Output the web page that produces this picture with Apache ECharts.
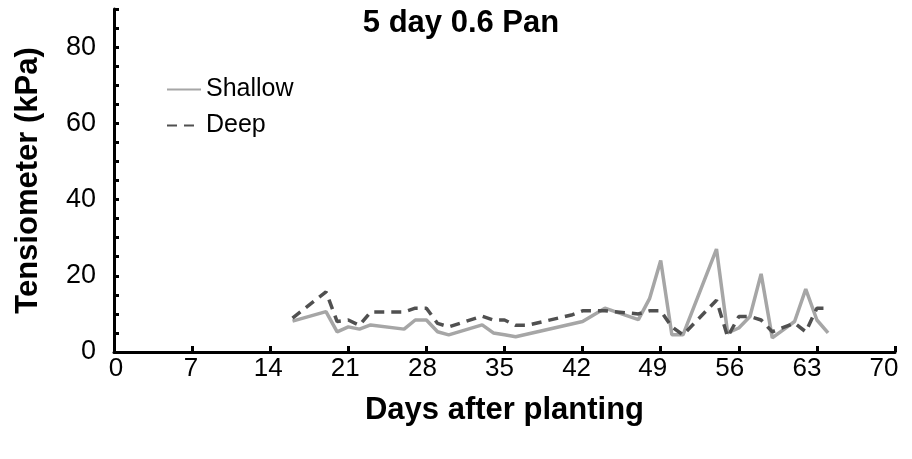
<!DOCTYPE html>
<html>
<head>
<meta charset="utf-8">
<script src="https://cdn.jsdelivr.net/npm/echarts@6/dist/echarts.min.js"></script>
<style>
  html, body { margin: 0; padding: 0; background: #fff; }
  #chart { width: 912px; height: 459px; }
</style>
</head>
<body>
<div id="chart"></div>
<script>
// Tensiometer readings, 5 day irrigation at 0.6 pan evaporation
const shallowDays   = [16, 19, 20, 21, 22, 23, 26, 27, 28, 29, 30, 33, 34, 35, 36, 42, 44, 47, 48, 49, 50, 51, 54, 55, 56, 57, 58, 59, 61, 62, 63, 64];
const shallowValues = [8.1, 10.6, 5.3, 6.6, 6.0, 7.1, 6.0, 8.4, 8.4, 5.3, 4.5, 7.1, 5.0, 4.5, 4.0, 8.0, 11.5, 8.5, 14.0, 24.0, 4.5, 4.5, 27.0, 5.0, 6.3, 9.3, 20.5, 3.7, 8.0, 16.5, 8.4, 5.0];

const deepDays   = [16, 19, 20, 21, 22, 23, 26, 27, 28, 29, 30, 33, 34, 35, 36, 37, 41, 42, 44, 47, 48, 49, 50, 51, 54, 55, 56, 57, 58, 59, 61, 62, 63, 64];
const deepValues = [8.9, 15.8, 8.0, 8.4, 7.0, 10.5, 10.5, 11.5, 11.5, 7.5, 6.6, 9.4, 8.4, 8.4, 7.0, 7.0, 9.7, 10.8, 10.8, 10.0, 10.8, 10.8, 6.6, 4.5, 13.6, 4.0, 9.3, 9.3, 8.4, 5.3, 7.6, 5.3, 11.5, 11.5];

const seriesNames = ['Shallow', 'Deep'];
const chartTitle = '5 day 0.6 Pan';
const xTitle = 'Days after planting';
const yTitle = 'Tensiometer (kPa)';

const FONT = '"Liberation Sans", Arial, sans-serif';

// Day labels sit slightly left of their ticks, drifting further toward the right end
const xLabelNudge = { 0: -2, 7: 1, 14: 2, 21: 3, 28: 4, 35: 5, 42: 6, 49: 8, 56: 9, 63: 10, 70: 11 };
const xLabelRich = {};
Object.keys(xLabelNudge).forEach(k => {
  const s = xLabelNudge[k];
  xLabelRich['d' + k] = {
    fontFamily: FONT, fontSize: 26, color: '#000',
    padding: s >= 0 ? [0, 2 * s, 0, 0] : [0, 0, 0, -2 * s]
  };
});

const pairs = (xs, ys) => xs.map((x, i) => [x, ys[i]]);

const chart = echarts.init(document.getElementById('chart'), null, { renderer: 'canvas' });

chart.setOption({
  animation: false,
  backgroundColor: '#ffffff',
  title: {
    text: chartTitle,
    left: 456,
    top: 3,
    textAlign: 'center',
    textStyle: { fontFamily: FONT, fontSize: 31, fontWeight: 'bold', color: '#000' }
  },
  legend: {
    orient: 'vertical',
    left: 161,
    top: 72,
    itemWidth: 34,
    itemHeight: 14,
    itemGap: 11,
    data: seriesNames,
    itemStyle: { opacity: 0 },
    textStyle: { fontFamily: FONT, fontSize: 25, color: '#000', padding: [0, 0, 0, 0] }
  },
  grid: { left: 114, right: 17, top: 9, bottom: 107, containLabel: false },
  xAxis: {
    type: 'value',
    min: 0,
    max: 70,
    interval: 7,
    name: xTitle,
    nameLocation: 'middle',
    nameGap: 43,
    nameTextStyle: { fontFamily: FONT, fontSize: 31, fontWeight: 'bold', color: '#000' },
    axisLine: { show: true, lineStyle: { color: '#000', width: 3 } },
    axisTick: { show: true, inside: true, length: 6, lineStyle: { color: '#000', width: 3 } },
    axisLabel: {
      fontFamily: FONT, fontSize: 26, color: '#000', margin: 4,
      formatter: v => (xLabelRich['d' + v] ? '{d' + v + '|' + v + '}' : String(v)),
      rich: xLabelRich
    },
    splitLine: { show: false }
  },
  yAxis: {
    type: 'value',
    min: 0,
    max: 90,
    interval: 5,
    name: yTitle,
    nameLocation: 'middle',
    nameGap: 70,
    nameRotate: 90,
    nameTextStyle: { fontFamily: FONT, fontSize: 31, fontWeight: 'bold', color: '#000' },
    axisLine: { show: true, lineStyle: { color: '#000', width: 3 } },
    axisTick: { show: true, inside: true, length: 5, lineStyle: { color: '#000', width: 3 } },
    axisLabel: {
      fontFamily: FONT, fontSize: 27, color: '#000', margin: 18,
      formatter: v => (v % 20 === 0 ? String(v) : '')
    },
    splitLine: { show: false }
  },
  series: [
    {
      name: seriesNames[0],
      type: 'line',
      data: pairs(shallowDays, shallowValues),
      symbol: 'none',
      lineStyle: { color: '#a6a6a6', width: 3.5 },
      itemStyle: { color: '#a6a6a6' },
      z: 2
    },
    {
      name: seriesNames[1],
      type: 'line',
      data: pairs(deepDays, deepValues),
      symbol: 'none',
      lineStyle: { color: '#505050', width: 3.5, type: [10, 7] },
      itemStyle: { color: '#505050' },
      z: 3
    }
  ]
});
</script>
</body>
</html>
